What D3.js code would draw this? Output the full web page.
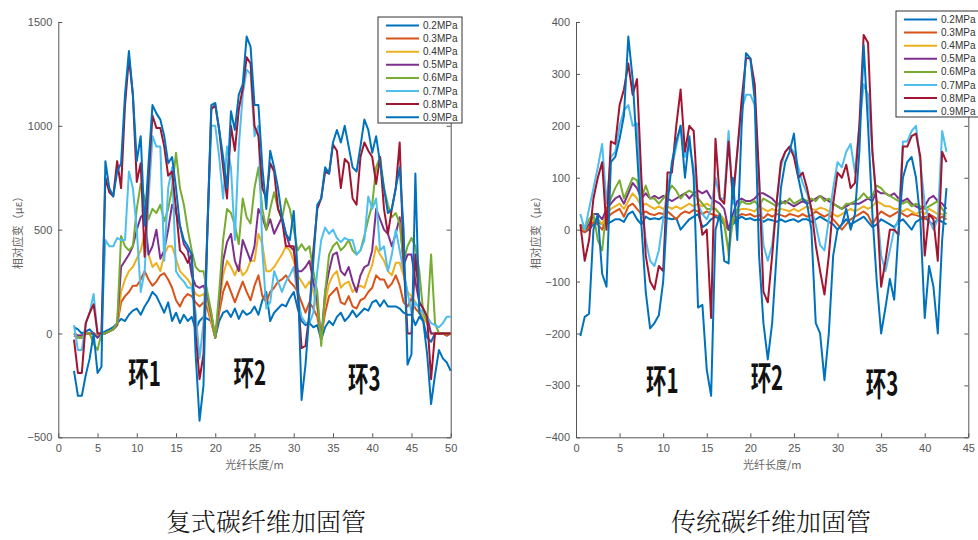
<!DOCTYPE html>
<html lang="zh">
<head>
<meta charset="UTF-8">
<title>碳纤维加固管 相对应变</title>
<script src="https://d3js.org/d3.v7.min.js"></script>
<style>
  body { margin: 0; background: #fff; }
  svg text { font-family: "Liberation Sans", Arial, sans-serif; }
  .tick text { fill: #555; font-size: 11px; }
  .domain, .tick line { stroke: #555; }
</style>
</head>
<body>
<svg id="chart" width="978" height="540"></svg>
<script>
var pressures = ["0.2MPa", "0.3MPa", "0.4MPa", "0.5MPa", "0.6MPa", "0.7MPa", "0.8MPa", "0.9MPa"];
var colors = ["#0072BD", "#D95319", "#EDB120", "#7E2F8E", "#77AC30", "#4DBEEE", "#A2142F", "#0072BD"];

// 复式碳纤维加固管, fibre length (m)
var xLeft = [2,2.5,3,3.5,4,4.5,5,5.5,6,6.5, 7,7.5,8,8.5,9,9.5,10,10.5,11,11.5,
  12,12.5,13,13.5,14,14.5,15,15.5,16,16.5, 17,17.5,18,18.5,19,19.5,20,20.5,21,21.5,
  22,22.5,23,23.5,24,24.5,25,25.5,26,26.5, 27,27.5,28,28.5,29,29.5,30,30.5,31,31.5,
  32,32.5,33,33.5,34,34.5,35,35.5,36,36.5, 37,37.5,38,38.5,39,39.5,40,40.5,41,41.5,
  42,42.5,43,43.5,44,44.5,45,45.5,46,46.5, 47,47.5,48,48.5,49,49.5,50];

var L02 = [30,20,0,10,20,0,-20,0,10,20, 30,50,70,60,90,110,120,90,130,160,
  200,180,140,100,150,60,100,50,90,60, 80,20,60,80,70,60,-20,60,100,110,
  80,120,70,110,90,100,130,90,160,200, 60,100,120,140,130,170,200,120,60,40,
  50,30,40,-30,30,60,40,80,100,60, 80,110,80,100,120,110,150,160,130,160,
  130,130,130,120,100,90,90,40,80,60, -20,-40,0,0,0,-10,0];
var L03 = [-10,-20,-20,0,0,0,-10,0,0,10, 20,40,150,180,200,230,230,260,300,260,
  230,250,280,290,260,220,160,130,170,190, 180,150,130,150,120,50,-20,100,200,250,
  200,150,200,250,200,160,230,280,180,150, 200,220,250,260,280,250,230,200,150,100,
  150,120,80,-20,100,180,200,220,150,140, 180,130,120,160,170,200,220,280,260,260,
  220,240,280,230,150,130,170,120,100,80, 50,0,0,0,0,-10,0];
var L04 = [0,-10,-10,0,0,0,-10,0,0,10, 20,40,200,260,300,320,360,400,480,380,
  320,340,300,380,420,420,360,300,280,260, 230,190,180,190,150,60,-20,130,280,350,
  320,280,330,280,300,350,350,480,430,300, 300,320,350,380,420,400,350,280,250,220,
  250,200,120,-20,150,240,280,300,220,240, 250,200,220,230,220,280,330,420,380,350,
  300,280,340,340,280,200,180,150,120,80, 50,0,0,0,0,0,0];
var L05 = [0,-10,-10,0,0,0,-20,0,0,10, 20,40,320,350,380,420,500,560,580,380,
  420,500,360,400,500,620,580,520,430,400, 280,230,220,230,180,90,-20,150,350,440,
  480,350,300,450,400,350,420,600,560,500, 550,480,520,560,480,420,400,300,300,320,
  350,250,150,-30,200,300,380,390,300,280, 320,250,200,280,320,330,400,600,550,500,
  480,420,480,560,330,380,380,250,150,120, 80,0,0,0,0,0,0];
var L06 = [0,-20,-20,0,0,-50,-80,0,0,10, 20,50,470,420,400,420,600,720,650,550,
  600,580,620,540,600,700,870,700,620,500, 400,320,300,300,200,100,-20,200,450,600,
  580,520,430,650,560,530,700,800,600,500, 600,680,600,550,650,600,500,400,430,400,
  420,300,200,-60,200,380,420,440,400,420, 450,400,380,400,470,550,620,800,850,700,
  620,560,580,530,350,420,460,420,300,100, 60,380,50,0,0,0,0];
var L07 = [40,-80,-80,50,100,190,0,0,450,420, 420,460,450,450,780,700,500,200,300,650,
  950,900,900,350,700,800,300,270,250,220, 220,100,-120,50,500,1000,1000,850,650,900,
  800,450,900,1150,1270,1250,950,1000,400,120, 150,300,250,200,250,280,320,180,80,50,
  50,100,300,450,510,480,500,460,440,460, 450,450,380,400,450,660,600,650,400,420,
  300,380,500,400,300,200,100,150,120,100, 80,50,40,30,50,80,80];
var L08 = [-30,-190,-190,50,100,140,0,0,750,680, 660,830,700,1100,1330,1150,730,820,370,750,
  1050,990,990,900,760,780,600,400,380,340, 380,0,-220,-100,500,1080,1100,980,800,650,
  1000,880,1080,1180,1330,1300,1000,950,700,650, 820,780,600,550,420,420,420,200,-70,-60,
  100,400,600,650,780,770,910,880,700,840, 820,650,620,850,920,880,850,720,850,600,
  480,600,700,920,350,0,0,380,150,120, 80,-220,0,0,0,0,0];
var L09 = [-180,-300,-300,-200,-120,0,-190,-160,830,700, 660,780,820,1150,1360,1150,830,950,520,820,
  1100,1060,1030,950,820,850,700,520,450,420, 380,-100,-420,-250,500,1100,1110,980,850,700,
  1070,980,1150,1200,1430,1380,1100,1100,800,600, 880,800,700,560,480,450,590,300,-320,-150,
  100,350,620,650,800,770,920,980,920,1000, 900,800,780,900,1030,980,870,950,820,700,
  580,600,700,800,500,-150,-100,770,100,60, -100,-340,-200,-80,-120,-140,-180];

// 传统碳纤维加固管, fibre length (m)
var xRight = [0.5,1,1.5,2,2.5,3,3.5,4,4.5,5, 5.5,6,6.5,7,7.5,8,8.5,9,9.5,10,
  10.5,11,11.5,12,12.5,13,13.5,14,14.5,15, 15.5,16,16.5,17,17.5,18,18.5,19,19.5,20,
  20.5,21,21.5,22,22.5,23,23.5,24,24.5,25, 25.5,26,26.5,27,27.5,28,28.5,29,29.5,30,
  30.5,31,31.5,32,32.5,33,33.5,34,34.5,35, 35.5,36,36.5,37,37.5,38,38.5,39,39.5,40,
  40.5,41,41.5,42,42.5];

var R02 = [0,-5,0,10,15,10,10,15,20,20, 15,30,35,20,10,25,20,22,20,25,
  22,20,22,0,10,20,25,30,5,10, 20,25,20,10,0,10,20,25,20,22,
  18,20,15,20,18,15,20,15,18,20, 15,20,20,15,20,25,20,15,10,0,
  10,20,10,15,20,25,15,5,10,20, 15,10,5,15,20,10,0,15,20,25,
  15,10,20,15,10];
var R03 = [0,-5,5,15,10,0,20,30,35,40, 25,45,50,40,30,35,30,28,32,30,
  35,28,20,30,35,32,38,35,30,35, 30,28,25,20,0,15,25,30,28,30,
  25,28,22,30,25,30,28,25,30,28, 25,30,25,28,35,30,25,30,20,10,
  0,10,20,25,30,35,28,10,25,35, 30,25,30,35,30,25,30,28,25,20,
  30,25,20,25,20];
var R04 = [5,0,10,20,20,10,30,40,45,50, 40,55,70,60,45,50,45,40,45,40,
  45,40,45,40,45,50,45,50,45,50, 45,40,30,20,-50,20,35,40,40,38,
  35,45,40,35,40,35,40,38,35,40, 35,40,45,40,38,42,40,35,30,25,
  30,35,40,35,40,45,40,45,55,50, 45,45,40,40,35,40,35,30,35,30,
  40,35,30,30,25];
var R05 = [10,0,10,30,30,20,40,50,60,65, 50,70,90,80,60,70,60,65,60,65,
  60,55,60,65,70,60,70,75,70,75, 60,55,50,40,0,30,55,60,55,55,
  60,70,70,65,60,50,50,55,50,45, 50,55,50,55,60,65,60,55,50,45,
  40,45,50,50,50,55,60,55,75,70, 70,65,70,60,55,60,50,45,40,45,
  60,65,55,50,40];
var R06 = [10,0,20,30,-20,-40,40,60,80,95, 60,80,100,95,60,85,60,60,50,60,
  70,85,75,60,70,75,70,60,50,40, 40,40,30,10,-40,20,40,55,50,50,
  55,45,60,55,50,45,55,50,60,50, 55,60,55,60,55,65,55,60,50,45,
  40,50,50,55,60,70,60,65,85,80, 70,65,60,55,50,55,45,50,45,40,
  45,50,55,40,30];
var R07 = [30,0,40,80,120,165,50,140,150,200, 230,240,200,205,60,-20,-60,-70,-40,20,
  80,120,160,200,140,160,120,50,30,20, 40,100,60,60,190,50,150,230,260,260,
  240,100,-30,-60,-30,50,120,150,160,150, 120,90,70,40,10,-30,-40,20,80,130,
  120,150,165,110,200,280,260,150,50,-50, -80,-40,0,20,170,170,190,200,130,50,
  20,0,20,190,150];
var R08 = [10,-60,-20,60,100,130,0,170,165,240, 270,320,260,290,100,-50,-100,-115,-70,-80,
  110,110,200,270,150,200,190,50,-10,0, -170,175,60,50,170,60,150,250,330,330,
  280,100,-120,-140,-50,50,130,150,160,140, 100,110,80,40,-30,-80,-125,-50,50,110,
  100,125,80,90,200,375,360,150,50,-110, -60,0,0,-10,160,160,180,185,140,-50,
  30,20,-60,150,130];
var R09 = [-205,-168,-162,0,30,-85,-110,130,140,175, 220,372,290,150,10,-120,-190,-180,-165,-100,
  50,130,170,200,100,180,100,-150,-145,-270, -320,0,30,-60,-65,100,-20,200,340,330,
  250,-50,-180,-250,-180,-50,80,130,150,185, 100,60,50,0,-180,-200,-290,-200,-50,0,
  10,40,0,30,150,355,200,30,-100,-200, -150,-95,-135,0,100,130,140,100,20,-170,
  -70,-110,-200,-20,80];

var leftXTicks = [0, 5, 10, 15, 20, 25, 30, 35, 40, 45, 50];
var leftYTicks = [-500, 0, 500, 1000, 1500];
var rightXTicks = [0, 5, 10, 15, 20, 25, 30, 35, 40, 45];
var rightYTicks = [-400, -300, -200, -100, 0, 100, 200, 300, 400];
var ringNames = ["环1", "环2", "环3"];
var leftRingX = [11, 24.4, 39];
var leftRingY = [-184, -180, -208];
var rightRingX = [9.9, 21.9, 35.1];
var rightRingY = [-286, -282, -293];

var svg = d3.select("#chart");

function drawPanel(p) {
  var x = d3.scaleLinear().domain(p.xDomain).range([p.left, p.right]);
  var y = d3.scaleLinear().domain(p.yDomain).range([p.bottom, p.top]);
  var g = svg.append("g");

  g.append("g")
    .attr("transform", "translate(0," + p.bottom + ")")
    .call(d3.axisBottom(x).tickValues(p.xTicks).tickFormat(d3.format("d"))
      .tickSizeInner(-4).tickSizeOuter(0).tickPadding(7));
  g.append("g")
    .attr("transform", "translate(" + p.left + ",0)")
    .call(d3.axisLeft(y).tickValues(p.yTicks).tickFormat(d3.format("d"))
      .tickSizeInner(-4).tickSizeOuter(0).tickPadding(6));
  g.append("g")
    .attr("transform", "translate(" + p.right + ",0)")
    .call(d3.axisRight(y).tickValues(p.yTicks).tickSizeInner(-4).tickSizeOuter(0).tickFormat(""))
    .select(".domain").attr("stroke", "#777");

  var line = d3.line()
    .x(function(d, i) { return x(p.xs[i]); })
    .y(function(d) { return y(d); });

  p.series.forEach(function(s, i) {
    g.append("path")
      .datum(s)
      .attr("fill", "none")
      .attr("stroke", colors[i])
      .attr("stroke-width", 2)
      .attr("stroke-linejoin", "round")
      .attr("d", line);
  });

  // ring labels
  ringNames.forEach(function(name, i) {
    var cx = x(p.ringX[i]), cy = y(p.ringY[i]);
    g.append("text")
      .attr("transform", "translate(" + cx + "," + cy + ") scale(0.62,1)")
      .attr("text-anchor", "middle")
      .attr("dominant-baseline", "central")
      .style("font-family", "'Noto Sans CJK SC', sans-serif")
      .style("font-weight", "bold")
      .style("font-size", "33px")
      .attr("fill", "#111")
      .text(name);
  });

  // axis titles
  g.append("text")
    .attr("x", (p.left + p.right) / 2)
    .attr("y", 464)
    .attr("text-anchor", "middle")
    .attr("dominant-baseline", "central")
    .style("font-family", "'Noto Sans CJK SC', sans-serif")
    .style("font-size", "11px")
    .attr("fill", "#666")
    .text("光纤长度/m");
  g.append("text")
    .attr("transform", "translate(" + p.yLabelX + ",230) rotate(-90)")
    .attr("text-anchor", "middle")
    .attr("dominant-baseline", "central")
    .style("font-family", "'Noto Sans CJK SC', sans-serif")
    .style("font-size", "11px")
    .attr("fill", "#666")
    .text("相对应变（με）");

  // legend
  var lg = g.append("g");
  lg.append("rect")
    .attr("x", p.legX).attr("y", p.legY)
    .attr("width", p.legW).attr("height", 106)
    .attr("fill", "#fff").attr("stroke", "#333").attr("stroke-width", 1);
  pressures.forEach(function(name, i) {
    var ry = p.legY + 8.5 + i * 13.1;
    lg.append("line")
      .attr("x1", p.legX + 8).attr("x2", p.legX + 41)
      .attr("y1", ry).attr("y2", ry)
      .attr("stroke", colors[i]).attr("stroke-width", 2);
    lg.append("text")
      .attr("x", p.legX + 45).attr("y", ry)
      .attr("dominant-baseline", "central")
      .style("font-size", "10px")
      .attr("fill", "#333")
      .text(name);
  });

  // caption
  svg.append("text")
    .attr("x", p.capX).attr("y", 520)
    .attr("text-anchor", "middle")
    .attr("dominant-baseline", "central")
    .style("font-family", "'Noto Serif CJK SC', 'Noto Sans CJK SC', serif")
    .style("font-size", "25px")
    .style("font-weight", "300")
    .attr("fill", "#111")
    .text(p.caption);
}

drawPanel({
  xs: xLeft, series: [L02, L03, L04, L05, L06, L07, L08, L09],
  xDomain: [0, 50], yDomain: [-500, 1500],
  left: 58.3, right: 450.7, top: 22, bottom: 437.3,
  xTicks: leftXTicks, yTicks: leftYTicks,
  ringX: leftRingX, ringY: leftRingY,
  yLabelX: 17, legX: 378, legY: 17, legW: 84,
  capX: 266, caption: "复式碳纤维加固管"
});

drawPanel({
  xs: xRight, series: [R02, R03, R04, R05, R06, R07, R08, R09],
  xDomain: [0, 45], yDomain: [-400, 400],
  left: 576, right: 968.3, top: 22, bottom: 437.3,
  xTicks: rightXTicks, yTicks: rightYTicks,
  ringX: rightRingX, ringY: rightRingY,
  yLabelX: 535, legX: 896, legY: 11, legW: 90,
  capX: 771, caption: "传统碳纤维加固管"
});
</script>
</body>
</html>
